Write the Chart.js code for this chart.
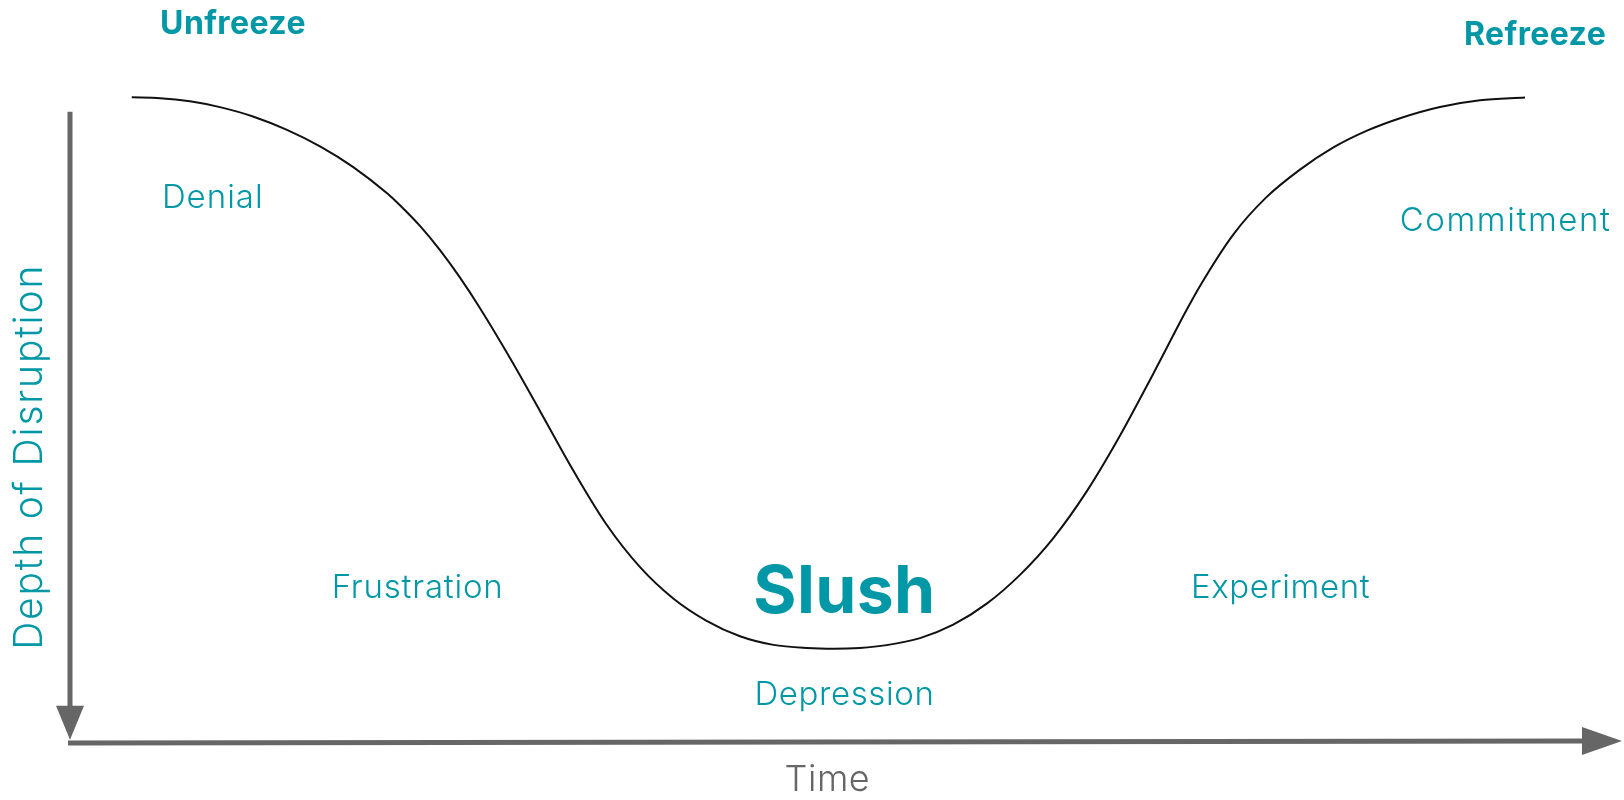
<!DOCTYPE html>
<html>
<head>
<meta charset="utf-8">
<script src="https://cdn.jsdelivr.net/npm/chart.js@4.4.1/dist/chart.umd.min.js"></script>
<style>
  html, body { margin: 0; padding: 0; background: #fff; }
  #wrap { width: 1624px; height: 800px; }
</style>
</head>
<body>
<div id="wrap"><canvas id="chart"></canvas></div>
<script>
// change curve: time (0-100) vs depth of disruption (0 = top, 100 = bottom)
const timeValues = [3.98, 5.80, 7.73, 9.66, 11.79, 13.98, 16.11, 18.23, 20.43, 21.26, 22.55, 23.84, 25.13, 26.42, 28.35, 30.28,
  32.43, 34.58, 36.73, 38.87, 41.02, 43.17, 45.32, 47.47, 49.23,
  50.90, 52.62, 54.77, 56.91, 59.07, 61.21, 63.36, 65.51, 67.65, 69.80, 71.95, 72.81, 74.94, 77.06, 79.25, 81.38, 83.57, 85.70, 88.27, 90.85, 93.75];
const depthValues = [0.05, 0.18, 0.67, 1.57, 3.02, 5.10, 7.65, 10.82, 14.91, 16.75, 19.96, 23.71, 27.97, 32.69, 40.40, 48.59,
  57.82, 66.21, 72.77, 77.62, 81.08, 83.48, 84.81, 85.29, 85.40,
  85.28, 84.85, 83.76, 81.68, 78.43, 73.98, 68.28, 61.05, 52.44, 42.83, 32.94, 29.24, 21.33, 15.58, 11.24, 7.84, 5.21, 3.28, 1.54, 0.49, 0.07];

const phaseLabels = ["Unfreeze", "Slush", "Refreeze"];
const stageLabels = ["Denial", "Frustration", "Depression", "Experiment", "Commitment"];
const xAxisTitle = "Time";
const yAxisTitle = "Depth of Disruption";

const TEAL = "#0097a6";
const GREY = "#666666";
const FONT = "Inter, 'Open Sans', sans-serif";

// where each text sits, in data units (t, d) - text baseline, centred
const placement = {
  Unfreeze:   { t: 10.5, d: -9.8, size: 32, weight: 700, spacing: 0.4 },
  Slush:      { t: 49.9, d: 79.9, size: 66, weight: 700, spacing: 0.4 },
  Refreeze:   { t: 94.4, d: -8.1, size: 32, weight: 700, spacing: 0.4 },
  Denial:     { t: 9.2,  d: 17.2, size: 33, weight: 300, spacing: 1 },
  Frustration:{ t: 22.4, d: 77.6, size: 33, weight: 300, spacing: 0.8 },
  Depression: { t: 49.9, d: 94.1, size: 33, weight: 300, spacing: 0.6 },
  Experiment: { t: 78.0, d: 77.6, size: 33, weight: 300, spacing: 0.6 },
  Commitment: { t: 92.5, d: 20.7, size: 33, weight: 300, spacing: 1.6 }
};

const points = timeValues.map((t, i) => ({ x: t, y: depthValues[i] }));

const arrowAxes = {
  id: "arrowAxes",
  afterDraw(chart) {
    const { ctx } = chart;
    const xs = chart.scales.x, ys = chart.scales.y;
    const px = v => xs.getPixelForValue(v);
    const py = v => ys.getPixelForValue(v);

    ctx.save();
    ctx.strokeStyle = GREY;
    ctx.fillStyle = GREY;
    ctx.lineWidth = 5;

    // vertical axis, pointing down
    const vx = px(0), vTop = py(2.3), vTip = py(99.5);
    ctx.beginPath();
    ctx.moveTo(vx, vTop);
    ctx.lineTo(vx, vTip - 30);
    ctx.stroke();
    ctx.beginPath();
    ctx.moveTo(vx - 14, vTip - 34);
    ctx.lineTo(vx + 14, vTip - 34);
    ctx.lineTo(vx, vTip);
    ctx.closePath();
    ctx.fill();

    // horizontal axis, pointing right
    const hy = py(100), hLeft = px(0) - 2, hTip = px(100);
    ctx.beginPath();
    ctx.moveTo(hLeft, hy);
    ctx.lineTo(hTip - 36, hy - 2);
    ctx.stroke();
    ctx.beginPath();
    ctx.moveTo(hTip - 40, hy - 2 - 14);
    ctx.lineTo(hTip - 40, hy - 2 + 14);
    ctx.lineTo(hTip, hy - 2);
    ctx.closePath();
    ctx.fill();

    // texts
    ctx.textAlign = "center";
    ctx.textBaseline = "alphabetic";
    ctx.fillStyle = TEAL;
    phaseLabels.concat(stageLabels).forEach(name => {
      const p = placement[name];
      ctx.font = p.weight + " " + p.size + "px " + FONT;
      ctx.letterSpacing = p.spacing + "px";
      ctx.fillText(name, px(p.t), py(p.d));
    });

    ctx.fillStyle = GREY;
    ctx.font = "300 36px " + FONT;
    ctx.letterSpacing = "0.5px";
    ctx.fillText(xAxisTitle, px(48.8), py(107.4));

    ctx.fillStyle = TEAL;
    ctx.font = "300 39px " + FONT;
    ctx.letterSpacing = "1.8px";
    ctx.translate(px(-1.8), py(55.7));
    ctx.rotate(-Math.PI / 2);
    ctx.fillText(yAxisTitle, 0, 0);
    ctx.restore();
  }
};

new Chart(document.getElementById("chart"), {
  type: "line",
  data: {
    datasets: [{
      data: points,
      borderColor: "#111111",
      borderWidth: 2,
      pointRadius: 0,
      cubicInterpolationMode: "monotone",
      fill: false,
      clip: false
    }]
  },
  options: {
    responsive: true,
    maintainAspectRatio: false,
    animation: false,
    layout: { padding: { left: 70, right: 2, top: 97, bottom: 57 } },
    plugins: { legend: { display: false }, tooltip: { enabled: false } },
    scales: {
      x: { type: "linear", min: 0, max: 100, display: false },
      y: { type: "linear", min: 0, max: 100, reverse: true, display: false }
    }
  },
  plugins: [arrowAxes]
});
</script>
</body>
</html>
